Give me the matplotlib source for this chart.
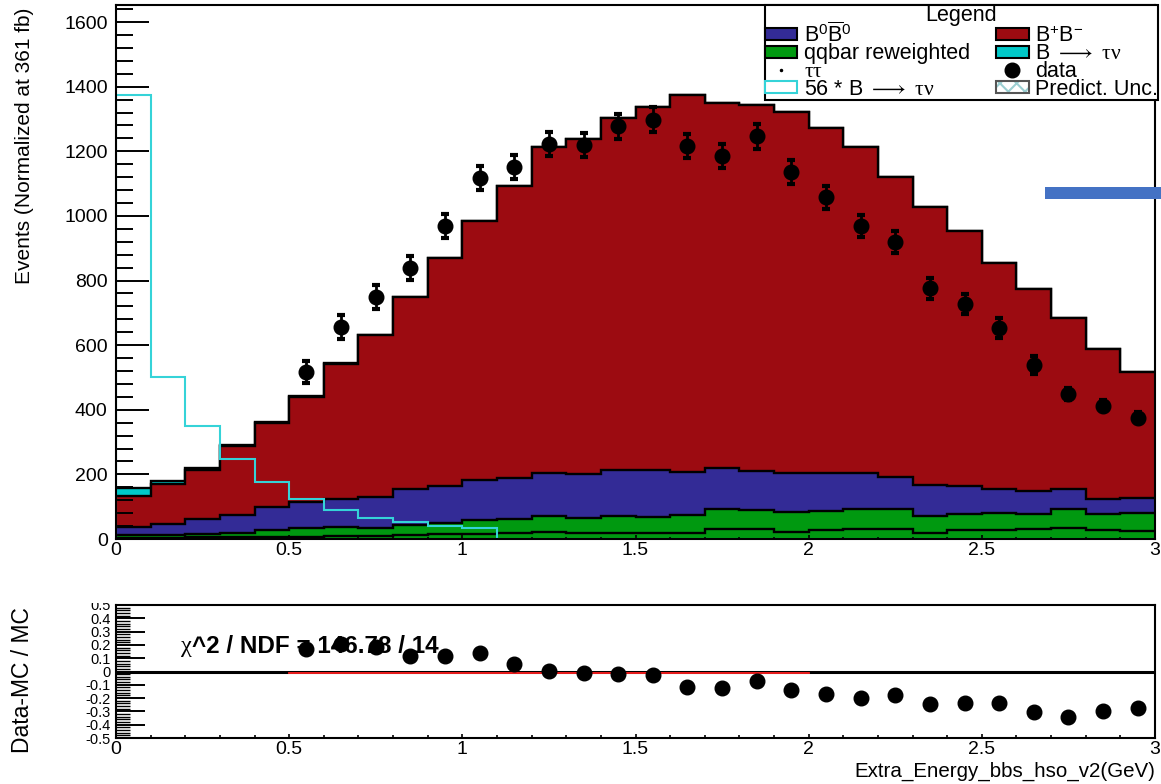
import numpy as np
import matplotlib.pyplot as plt
from matplotlib.patches import Patch, Rectangle
from matplotlib.lines import Line2D
from matplotlib.ticker import MultipleLocator, FuncFormatter

plt.rcParams['font.family'] = ['Liberation Sans', 'DejaVu Sans']
plt.rcParams['mathtext.fontset'] = 'custom'
plt.rcParams['mathtext.rm'] = 'Liberation Sans'
plt.rcParams['mathtext.it'] = 'Liberation Serif'
plt.rcParams['hatch.linewidth'] = 1.5

# 30 bins of 0.1 GeV in extra energy
edges = np.round(np.linspace(0, 3, 31), 2)
centers = (edges[:-1] + edges[1:]) / 2

# MC yields per bin (normalised to 361 fb^-1)
tautau = [4, 4, 5, 5, 7, 7, 8, 8, 12, 15, 17, 20, 22, 20, 18,
          18, 20, 30, 32, 23, 27, 30, 30, 20, 27, 28, 31, 33, 28, 25]
qqbar = [8, 8, 12, 13, 21, 28, 30, 27, 31, 35, 42, 41, 49, 46, 52,
         51, 54, 62, 58, 62, 61, 62, 62, 52, 50, 51, 47, 59, 49, 56]
b0b0bar = [26, 34, 46, 57, 71, 79, 87, 94, 111, 115, 124, 128, 134, 135, 144,
           144, 134, 129, 120, 118, 115, 111, 101, 95, 88, 76, 72, 63, 48, 47]
bpbm = [95, 125, 152, 213, 260, 327, 418, 502, 594, 705, 800, 905, 1008, 1036, 1088,
        1123, 1167, 1130, 1134, 1120, 1070, 1010, 929, 860, 789, 700, 623, 528, 462, 390]
btaunu = [24.55, 8.93, 6.25, 4.43, 3.16, 2.23, 1.61, 1.16, 0.93, 0.71, 0.59, 0, 0, 0, 0,
          0, 0, 0, 0, 0, 0, 0, 0, 0, 0, 0, 0, 0, 0, 0]
sig_scale = 56

# data (bins from 0.5 GeV upwards)
data_x = centers[5:]
data_y = np.array([517, 656, 749, 839, 970, 1118, 1152, 1222, 1220, 1277, 1298, 1216, 1185,
                   1246, 1136, 1058, 969, 920, 776, 727, 652, 539, 448, 412, 376])
data_err = [33, 36, 36, 36, 37, 38, 38, 37, 37, 38, 38, 37, 37,
            38, 36, 35, 34, 34, 33, 32, 31, 28, 18, 17, 16]

chi2, ndf = 146.78, 14
fit_lo, fit_hi, fit_val = 0.5, 2.0, -0.015

c_red = '#9c0b11'
c_blue = '#332b96'
c_green = '#009910'
c_cyan = '#00c9c9'
c_sigline = '#35d3d8'

fig = plt.figure(figsize=(11.61, 7.84), dpi=100)
W, H = 1161, 784
ax1 = fig.add_axes([116 / W, 1 - 539 / H, 1039 / W, 534 / H])
ax2 = fig.add_axes([116 / W, 1 - 738 / H, 1039 / W, 133 / H])

# stacked MC, highest cumulative drawn first
layers = [(tautau, c_green), (qqbar, c_green), (b0b0bar, c_blue), (bpbm, c_red), (btaunu, c_cyan)]
cum = np.cumsum([np.array(v, dtype=float) for v, c in layers], axis=0)
for top, (_, col) in reversed(list(zip(cum, layers))):
    ax1.stairs(top, edges, fill=True, facecolor=col, edgecolor='none', zorder=1)
    ax1.stairs(top, edges, baseline=None, color='black', lw=1.7, zorder=1)

ax1.stairs(sig_scale * np.array(btaunu), edges, color=c_sigline, lw=1.5, zorder=2)
ax1.errorbar(data_x, data_y, yerr=data_err, fmt='o', color='black', ms=10.5,
             elinewidth=2, capsize=3, capthick=3, zorder=3)

ax1.set_xlim(0, 3)
ax1.set_ylim(0, 1653)
ax1.yaxis.set_major_locator(MultipleLocator(200))
ax1.yaxis.set_minor_locator(MultipleLocator(40))
ax1.xaxis.set_major_locator(MultipleLocator(0.5))
ax1.xaxis.set_minor_locator(MultipleLocator(0.1))
ax1.xaxis.set_major_formatter(FuncFormatter(lambda v, p: f'{v:g}'))
ax1.tick_params(axis='y', which='major', direction='in', length=23.5, width=1.4, labelsize=14, pad=6)
ax1.tick_params(axis='y', which='minor', direction='in', length=12, width=1.4)
ax1.tick_params(axis='x', which='major', direction='in', length=3, width=1.2, labelsize=14, pad=2)
ax1.tick_params(axis='x', which='minor', direction='in', length=1.5, width=1.2)
ax1.set_ylabel('Events (Normalized at 361 fb)', loc='top', fontsize=15)
ax1.yaxis.set_label_coords(-0.079, 0.995)

handles = [Patch(facecolor=c_blue, edgecolor='black', lw=1.5),
           Patch(facecolor=c_green, edgecolor='black', lw=1.5),
           Line2D([], [], marker='.', ms=3, color='black', ls='none'),
           Patch(facecolor='white', edgecolor=c_sigline, lw=1.5),
           Patch(facecolor=c_red, edgecolor='black', lw=1.5),
           Patch(facecolor=c_cyan, edgecolor='black', lw=1.5),
           Line2D([], [], marker='o', ms=10.5, color='black', ls='none'),
           (Patch(facecolor='white', edgecolor='#9ccfd2', hatch='xx', lw=0),
            Patch(facecolor='none', edgecolor='#555555', lw=1.5))]
labels = [r'B$^{0}\overline{\mathrm{B}}^{0}$', 'qqbar reweighted', r'$\tau\tau$',
          r'56 * B $\longrightarrow\ \tau\nu$',
          r'B$^{+}$B$^{-}$', r'B $\longrightarrow\ \tau\nu$', 'data', 'Predict. Unc.']
leg = ax1.legend(handles, labels, ncol=2, title='Legend', fontsize=15.5, title_fontsize=15.5,
                 loc='upper left', bbox_to_anchor=(765 / W, 1 - 97 / H, 393 / W, 92 / H),
                 bbox_transform=fig.transFigure, mode='expand', borderaxespad=0,
                 borderpad=0.0, labelspacing=-0.16, handlelength=1.5, handleheight=0.5,
                 handletextpad=0.3, columnspacing=0.2, fancybox=False, framealpha=1,
                 edgecolor='black')
leg.get_frame().set_linewidth(1.5)
leg.set_zorder(5)

# ratio panel
mc_total = cum[-1][5:]
ratio = data_y / mc_total - 1
ax2.axhline(0, color='black', lw=2.2, zorder=1)
ax2.plot([fit_lo, fit_hi], [fit_val, fit_val], color='#ff2020', lw=1.3, zorder=1)
ax2.plot(data_x, ratio, 'o', color='black', ms=10.5, zorder=3)

t = ax2.text(0.188, 0.19, 'χ', family='Liberation Serif', fontsize=17.5, va='center', zorder=2)
ax2.annotate(f'^2 / NDF = {chi2:.2f} / {ndf}', xy=(1, 0.5), xycoords=t, va='center',
             fontsize=17.5, fontweight='bold', zorder=2)

ax2.set_xlim(0, 3)
ax2.set_ylim(-0.5, 0.5)
ax2.yaxis.set_major_locator(MultipleLocator(0.1))
ax2.yaxis.set_minor_locator(MultipleLocator(0.02))
ax2.yaxis.set_major_formatter(FuncFormatter(lambda v, p: f'{round(v, 2) + 0.0:g}'))
ax2.xaxis.set_major_locator(MultipleLocator(0.5))
ax2.xaxis.set_minor_locator(MultipleLocator(0.1))
ax2.xaxis.set_major_formatter(FuncFormatter(lambda v, p: f'{v:g}'))
ax2.tick_params(axis='y', which='major', direction='in', length=21, width=1.4, labelsize=10.5, pad=4)
ax2.tick_params(axis='y', which='minor', direction='in', length=10, width=1)
ax2.tick_params(axis='x', which='major', direction='in', length=3, width=1.2, labelsize=14, pad=2)
ax2.tick_params(axis='x', which='minor', direction='in', length=2, width=1.2)
ax2.set_ylabel('Data-MC / MC', loc='top', fontsize=16.5)
ax2.yaxis.set_label_coords(-0.079, 0.985)
ax2.set_xlabel('Extra_Energy_bbs_hso_v2(GeV)', loc='right', fontsize=14.8)
ax2.xaxis.set_label_coords(1.0, -0.18)

for ax in (ax1, ax2):
    for s in ax.spines.values():
        s.set_linewidth(1.5)

# upper pad hides the top half of the ratio's first label
fig.patches.append(Rectangle((60 / W, 1 - 603 / H), 54 / W, 20 / H, transform=fig.transFigure,
                             facecolor='white', edgecolor='none', zorder=5))
fig.patches.append(Rectangle((1045 / W, 1 - 199 / H), 116 / W, 12 / H, transform=fig.transFigure,
                             facecolor='#4472c4', edgecolor='none', zorder=6))

fig.savefig('out.png', dpi=100)
